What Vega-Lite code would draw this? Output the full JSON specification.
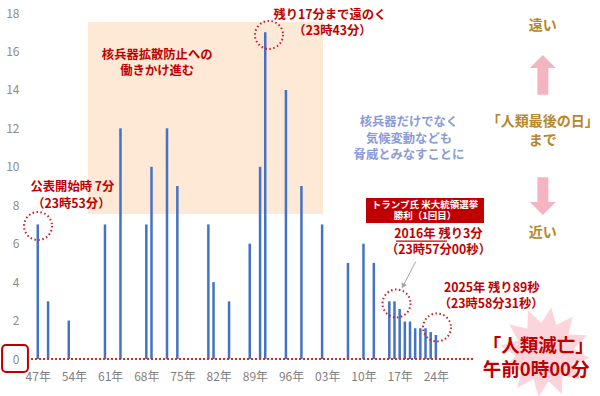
{
  "$schema": "https://vega.github.io/schema/vega-lite/v6.json",
  "width": 570,
  "height": 346,
  "autosize": {"type": "none"},
  "padding": {"left": 30, "top": 13, "right": 0, "bottom": 37},
  "background": "white",
  "config": {
    "view": {"stroke": null},
    "font": "Noto Sans CJK JP",
    "axis": {"grid": false, "domain": false, "ticks": false, "title": null, "labelFont": "Noto Sans CJK JP", "labelOverlap": false},
    "axisX": {"labelColor": "#7f7f7f", "labelFontSize": 12, "labelPadding": 12},
    "axisY": {"labelColor": "#8c8c8c", "labelFontSize": 12, "labelPadding": 11}
  },
  "encoding": {
    "x": {"field": "x", "type": "quantitative", "scale": {"domain": [1945.5, 2055.75], "nice": false, "zero": false},
      "axis": {"values": [1947, 1954, 1961, 1968, 1975, 1982, 1989, 1996, 2003, 2010, 2017, 2024], "labelExpr": "substring(toString(datum.value), 2) + '年'", "title": null, "labelOverlap": false}},
    "y": {"field": "y", "type": "quantitative", "scale": {"domain": [0, 18], "nice": false, "zero": false},
      "axis": {"values": [0, 2, 4, 6, 8, 10, 12, 14, 16, 18], "title": null, "labelOverlap": false, "labelBound": false, "labelFlush": false}}
  },
  "datasets": {
    "clock": [
      {"x": 1947, "y": 7}, {"x": 1949, "y": 3}, {"x": 1953, "y": 2}, {"x": 1960, "y": 7},
      {"x": 1963, "y": 12}, {"x": 1968, "y": 7}, {"x": 1969, "y": 10}, {"x": 1972, "y": 12},
      {"x": 1974, "y": 9}, {"x": 1980, "y": 7}, {"x": 1981, "y": 4}, {"x": 1984, "y": 3},
      {"x": 1988, "y": 6}, {"x": 1990, "y": 10}, {"x": 1991, "y": 17}, {"x": 1995, "y": 14},
      {"x": 1998, "y": 9}, {"x": 2002, "y": 7}, {"x": 2007, "y": 5}, {"x": 2010, "y": 6},
      {"x": 2012, "y": 5}, {"x": 2015, "y": 3}, {"x": 2016, "y": 3}, {"x": 2017, "y": 2.6},
      {"x": 2018, "y": 1.95}, {"x": 2019, "y": 1.95}, {"x": 2020, "y": 1.6}, {"x": 2021, "y": 1.6},
      {"x": 2022, "y": 1.6}, {"x": 2023, "y": 1.4}, {"x": 2024, "y": 1.25}
    ],
    "shade": [{"x": 1956.72, "x2": 2002.17, "y": 17.53, "y2": 7.54}],
    "zerobox": [{"x": 1940.1, "x2": 1945.1, "y": 0.73, "y2": -0.68}],
    "baseline": [{"x": 1945.7, "x2": 2031.2, "y": 0}],
    "circles": [
      {"x": 1947.05, "y": 6.92}, {"x": 1991.73, "y": 16.86},
      {"x": 2016.39, "y": 2.89}, {"x": 2024.22, "y": 1.64}
    ],
    "trumpbox": [{"x": 2010.49, "x2": 2033.31, "y": 8.38, "y2": 7.08}],
    "trumptext": [
      {"x": 2021.9, "y": 8.03, "t": "トランプ氏 米大統領選挙"},
      {"x": 2021.9, "y": 7.42, "t": "勝利（1回目）"}
    ],
    "redtext": [
      {"x": 1970.1, "y": 15.84, "t": "核兵器拡散防止への"},
      {"x": 1970.1, "y": 14.96, "t": "働きかけ進む"},
      {"x": 2003.5, "y": 17.92, "t": "残り17分まで遠のく"},
      {"x": 2004.0, "y": 17.05, "t": "（23時43分）"},
      {"x": 1953.7, "y": 8.94, "t": "公表開始時 7分"},
      {"x": 1953.5, "y": 8.08, "t": "（23時53分）"},
      {"x": 2024.5, "y": 6.52, "t": "2016年 残り3分"},
      {"x": 2024.5, "y": 5.65, "t": "（23時57分00秒）"},
      {"x": 2034.8, "y": 3.68, "t": "2025年 残り89秒"},
      {"x": 2034.7, "y": 2.88, "t": "（23時58分31秒）"}
    ],
    "underline": [{"x": 2016.29, "x2": 2026.16, "y": 6.13}],
    "bluetext": [
      {"x": 2018.8, "y": 12.31, "t": "核兵器だけでなく"},
      {"x": 2018.8, "y": 11.47, "t": "気候変動なども"},
      {"x": 2018.8, "y": 10.63, "t": "脅威とみなすことに"}
    ],
    "goldtext": [
      {"x": 2044.7, "y": 17.33, "t": "遠い"},
      {"x": 2044.7, "y": 12.32, "t": "「人類最後の日」"},
      {"x": 2044.7, "y": 11.35, "t": "まで"},
      {"x": 2044.7, "y": 6.56, "t": "近い"}
    ],
    "uparrow": [{"x": 2044.7, "y": 15.14}],
    "downarrow": [{"x": 2044.7, "y": 8.17}],
    "star": [{"x": 2045.1, "y": 0.36}],
    "bigtext": [
      {"x": 2043.8, "y": 0.66, "t": "「人類滅亡」"},
      {"x": 2043.4, "y": -0.55, "t": "午前0時00分"}
    ],
    "pointer": [{"x": 2020.1, "y": 5.06, "x2": 2017.65, "y2": 3.8}],
    "pointerhead": [{"x": 2017.65, "y": 3.8}]
  },
  "layer": [
    {
      "data": {"name": "shade"},
      "mark": {"type": "rect", "fill": "#fde9d5"},
      "encoding": {"x2": {"field": "x2"}, "y2": {"field": "y2"}}
    },
    {
      "data": {"name": "clock"},
      "mark": {"type": "rule", "color": "#4472c4", "strokeWidth": 2.5},
      "encoding": {"y2": {"datum": 0}}
    },
    {
      "data": {"name": "baseline"},
      "mark": {"type": "rule", "color": "#d42a2a", "strokeWidth": 2, "strokeDash": [2, 2]},
      "encoding": {"x2": {"field": "x2"}}
    },
    {
      "data": {"name": "zerobox"},
      "mark": {"type": "rect", "fill": null, "fillOpacity": 0, "stroke": "#c00000", "strokeWidth": 2, "cornerRadius": 4},
      "encoding": {"x2": {"field": "x2"}, "y2": {"field": "y2"}}
    },
    {
      "data": {"name": "circles"},
      "mark": {"type": "point", "shape": "circle", "filled": false, "size": 784, "stroke": "#c8202a", "strokeWidth": 2, "strokeDash": [1.5, 2.5], "opacity": 1},
      "encoding": {}
    },
    {
      "data": {"name": "trumpbox"},
      "mark": {"type": "rect", "fill": "#c00000"},
      "encoding": {"x2": {"field": "x2"}, "y2": {"field": "y2"}}
    },
    {
      "data": {"name": "trumptext"},
      "mark": {"type": "text", "color": "white", "fontSize": 9.5, "fontWeight": "bold", "align": "center", "baseline": "middle"},
      "encoding": {"text": {"field": "t"}}
    },
    {
      "data": {"name": "redtext"},
      "mark": {"type": "text", "color": "#c00000", "fontSize": 12.3, "fontWeight": "bold", "align": "center", "baseline": "middle"},
      "encoding": {"text": {"field": "t"}}
    },
    {
      "data": {"name": "underline"},
      "mark": {"type": "rule", "color": "#c00000", "strokeWidth": 1.2},
      "encoding": {"x2": {"field": "x2"}}
    },
    {
      "data": {"name": "bluetext"},
      "mark": {"type": "text", "color": "#8a9bd8", "fontSize": 12.3, "fontWeight": "bold", "align": "center", "baseline": "middle"},
      "encoding": {"text": {"field": "t"}}
    },
    {
      "data": {"name": "uparrow"},
      "mark": {"type": "point", "shape": "M -1 0 L 0 -1 L 1 0 L 0.42 0 L 0.42 2.05 L -0.42 2.05 L -0.42 0 Z", "size": 676, "filled": true, "color": "#f4b4c0", "opacity": 1},
      "encoding": {}
    },
    {
      "data": {"name": "downarrow"},
      "mark": {"type": "point", "shape": "M -1 0 L 0 1 L 1 0 L 0.42 0 L 0.42 -1.9 L -0.42 -1.9 L -0.42 0 Z", "size": 676, "filled": true, "color": "#f4b4c0", "opacity": 1},
      "encoding": {}
    },
    {
      "data": {"name": "goldtext"},
      "mark": {"type": "text", "color": "#b8862b", "fontSize": 14, "fontWeight": "bold", "align": "center", "baseline": "middle"},
      "encoding": {"text": {"field": "t"}}
    },
    {
      "data": {"name": "star"},
      "mark": {"type": "point", "shape": "M 1 0 L 0.63 0.17 L 0.87 0.5 L 0.46 0.46 L 0.5 0.87 L 0.17 0.63 L 0 1 L -0.17 0.63 L -0.5 0.87 L -0.46 0.46 L -0.87 0.5 L -0.63 0.17 L -1 0 L -0.63 -0.17 L -0.87 -0.5 L -0.46 -0.46 L -0.5 -0.87 L -0.17 -0.63 L 0 -1 L 0.17 -0.63 L 0.5 -0.87 L 0.46 -0.46 L 0.87 -0.5 L 0.63 -0.17 Z", "size": 8100, "angle": 8, "filled": true, "color": "#fcd4db", "opacity": 1},
      "encoding": {}
    },
    {
      "data": {"name": "bigtext"},
      "mark": {"type": "text", "color": "#c00000", "fontSize": 18.5, "fontWeight": "bold", "align": "center", "baseline": "middle"},
      "encoding": {"text": {"field": "t"}}
    },
    {
      "data": {"name": "pointer"},
      "mark": {"type": "rule", "color": "#a6a6a6", "strokeWidth": 1},
      "encoding": {"x2": {"field": "x2"}, "y2": {"field": "y2"}}
    },
    {
      "data": {"name": "pointerhead"},
      "mark": {"type": "point", "shape": "triangle-down", "size": 35, "angle": 28, "filled": true, "color": "#a6a6a6", "opacity": 1},
      "encoding": {}
    }
  ]
}
